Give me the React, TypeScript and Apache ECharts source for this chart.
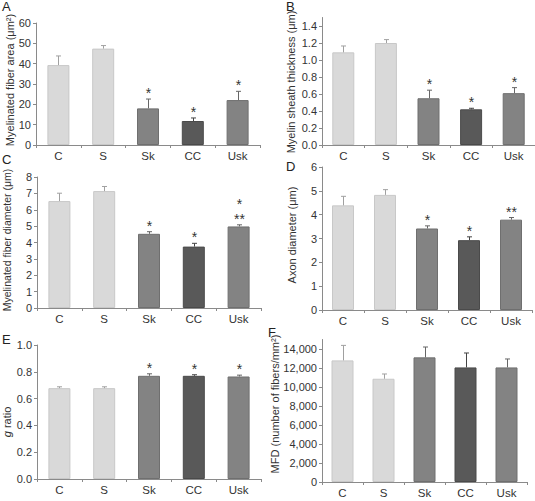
import { useEffect, useRef } from 'react';
import * as echarts from 'echarts';

// Groups on the x axis
const categories = ['C', 'S', 'Sk', 'CC', 'Usk'];

// A: myelinated fiber area (µm²)
const fiberArea = [39.3, 47.4, 18.0, 11.8, 22.1];
const fiberAreaSem = [4.5, 1.5, 4.6, 1.5, 4.3];
const fiberAreaMarks = ['', '', '*', '*', '*'];

// B: myelin sheath thickness (µm)
const sheathThickness = [1.09, 1.2, 0.55, 0.42, 0.61];
const sheathThicknessSem = [0.075, 0.04, 0.095, 0.012, 0.065];
const sheathThicknessMarks = ['', '', '*', '*', '*'];

// C: myelinated fiber diameter (µm)
const fiberDiameter = [6.53, 7.14, 4.53, 3.75, 4.98];
const fiberDiameterSem = [0.48, 0.28, 0.13, 0.2, 0.1];
const fiberDiameterMarks = ['', '', '*', '*', '*\n**'];

// D: axon diameter (µm)
const axonDiameter = [4.39, 4.83, 3.42, 2.93, 3.79];
const axonDiameterSem = [0.38, 0.22, 0.11, 0.14, 0.09];
const axonDiameterMarks = ['', '', '*', '*', '**'];

// E: g ratio
const gRatio = [0.678, 0.678, 0.77, 0.77, 0.765];
const gRatioSem = [0.01, 0.01, 0.015, 0.008, 0.01];
const gRatioMarks = ['', '', '*', '*', '*'];

// F: myelinated fiber density (fibers/mm²)
const fiberDensity = [12800, 10870, 13120, 12060, 12060];
const fiberDensitySem = [1580, 500, 1090, 1520, 890];
const fiberDensityMarks = ['', '', '', '', ''];

const barColors = ['#d9d9d9', '#d9d9d9', '#838383', '#595959', '#838383'];
const barBorders = ['#c8c8c8', '#c8c8c8', '#6f6f6f', '#4a4a4a', '#6f6f6f'];
const errColors = ['#a0a0a0', '#a0a0a0', '#666666', '#444444', '#666666'];

const FONT = '"Liberation Sans", Arial, Helvetica, sans-serif';
const TEXT = '#333333';
const AXIS = '#8a8a8a';

type Panel = {
  letter: string;
  letterPos: [number, number];
  title: string;
  titlePos: [number, number];
  titleSize: number;
  values: number[];
  sem: number[];
  marks: string[];
  max: number;
  interval: number;
  hideMax: boolean;
  fmt: (v: number) => string;
  grid: { left: number; top: number; width: number; height: number };
};

const panels: Panel[] = [
  {
    letter: 'A', letterPos: [2, 0], title: 'Myelinated fiber area (μm²)', titlePos: [10, 80], titleSize: 11,
    values: fiberArea, sem: fiberAreaSem, marks: fiberAreaMarks,
    max: 60, interval: 10, hideMax: false, fmt: (v) => String(v),
    grid: { left: 36, top: 23, width: 224, height: 122 },
  },
  {
    letter: 'B', letterPos: [286, 0], title: 'Myelin sheath thickness (μm)', titlePos: [291, 82], titleSize: 11,
    values: sheathThickness, sem: sheathThicknessSem, marks: sheathThicknessMarks,
    max: 1.5, interval: 0.2, hideMax: true, fmt: (v) => v.toFixed(1),
    grid: { left: 322, top: 17.5, width: 213, height: 127.5 },
  },
  {
    letter: 'C', letterPos: [2, 153], title: 'Myelinated fiber diameter (μm)', titlePos: [7, 240], titleSize: 10.5,
    values: fiberDiameter, sem: fiberDiameterSem, marks: fiberDiameterMarks,
    max: 8, interval: 1, hideMax: false, fmt: (v) => String(v),
    grid: { left: 37, top: 177, width: 224, height: 131 },
  },
  {
    letter: 'D', letterPos: [286, 160], title: 'Axon diameter (μm)', titlePos: [292, 235], titleSize: 11,
    values: axonDiameter, sem: axonDiameterSem, marks: axonDiameterMarks,
    max: 6, interval: 1, hideMax: false, fmt: (v) => String(v),
    grid: { left: 322, top: 167, width: 210, height: 143 },
  },
  {
    letter: 'E', letterPos: [2, 333], title: '{i|g} ratio', titlePos: [7, 422], titleSize: 11,
    values: gRatio, sem: gRatioSem, marks: gRatioMarks,
    max: 1.0, interval: 0.2, hideMax: false, fmt: (v) => v.toFixed(1),
    grid: { left: 37, top: 345, width: 224, height: 134 },
  },
  {
    letter: 'F', letterPos: [268, 326], title: 'MFD (number of fibers/mm²)', titlePos: [275, 404], titleSize: 11,
    values: fiberDensity, sem: fiberDensitySem, marks: fiberDensityMarks,
    max: 15000, interval: 2000, hideMax: true, fmt: (v) => v.toLocaleString('en-US'),
    grid: { left: 322, top: 339.5, width: 205, height: 142.5 },
  },
];

function buildOption() {
  const grid = panels.map((p) => ({ ...p.grid, containLabel: false }));

  const xAxis = panels.map((_, i) => ({
    type: 'category',
    gridIndex: i,
    data: categories,
    axisLine: { show: true, lineStyle: { color: AXIS, width: 1 } },
    axisTick: { show: true, length: 3, lineStyle: { color: AXIS } },
    axisLabel: { color: TEXT, fontSize: 11.5, fontFamily: FONT, margin: 5 },
    splitLine: { show: false },
  }));

  const yAxis = panels.map((p, i) => ({
    type: 'value',
    gridIndex: i,
    min: 0,
    max: p.max,
    interval: p.interval,
    axisLine: { show: true, lineStyle: { color: AXIS, width: 1 } },
    axisTick: { show: true, length: 3, lineStyle: { color: AXIS } },
    axisLabel: {
      color: TEXT,
      fontSize: 11,
      fontFamily: FONT,
      margin: 5,
      showMaxLabel: !p.hideMax,
      formatter: (v: number) => p.fmt(v),
    },
    splitLine: { show: false },
  }));

  const series: any[] = [];
  panels.forEach((p, i) => {
    series.push({
      type: 'bar',
      xAxisIndex: i,
      yAxisIndex: i,
      barWidth: 22,
      data: p.values.map((v, j) => ({
        value: v,
        itemStyle: { color: barColors[j], borderColor: barBorders[j], borderWidth: 1 },
      })),
    });
    series.push({
      type: 'custom',
      xAxisIndex: i,
      yAxisIndex: i,
      z: 5,
      data: p.values.map((v, j) => [j, v, v + p.sem[j]]),
      renderItem: (params: any, api: any) => {
        const j = params.dataIndex;
        const base = api.coord([api.value(0), api.value(1)]);
        const top = api.coord([api.value(0), api.value(2)]);
        const x = Math.round(base[0]) + 0.5;
        const stroke = { stroke: errColors[j], lineWidth: 1 };
        const children: any[] = [
          { type: 'line', shape: { x1: x, y1: base[1], x2: x, y2: top[1] }, style: stroke },
          { type: 'line', shape: { x1: x - 2.5, y1: top[1], x2: x + 2.5, y2: top[1] }, style: stroke },
        ];
        // significance marks, one text per line, stacked upward from the error bar
        const lines = p.marks[j] ? p.marks[j].split('\n').reverse() : [];
        lines.forEach((line, k) => {
          children.push({
            type: 'text',
            style: {
              text: line,
              x,
              y: top[1] + 1 - k * 15,
              align: 'center',
              verticalAlign: 'bottom',
              fontSize: 14,
              lineHeight: 14,
              fontFamily: FONT,
              fill: TEXT,
            },
          });
        });
        return { type: 'group', children };
      },
    });
  });

  const graphic: any[] = [];
  panels.forEach((p) => {
    graphic.push({
      type: 'text',
      x: p.letterPos[0],
      y: p.letterPos[1],
      style: {
        text: p.letter,
        fontSize: 13,
        fontFamily: FONT,
        fill: '#222222',
        align: 'left',
        verticalAlign: 'top',
      },
    });
    graphic.push({
      type: 'text',
      x: p.titlePos[0],
      y: p.titlePos[1],
      rotation: Math.PI / 2,
      style: {
        text: p.title,
        fontSize: p.titleSize,
        fontFamily: FONT,
        fill: TEXT,
        align: 'center',
        verticalAlign: 'middle',
        rich: {
          i: { fontStyle: 'italic', fontSize: p.titleSize, fontFamily: FONT, fill: TEXT },
        },
      },
    });
  });

  return {
    animation: false,
    backgroundColor: '#ffffff',
    textStyle: { fontFamily: FONT },
    grid,
    xAxis,
    yAxis,
    series,
    graphic,
  };
}

export default function App() {
  const ref = useRef<HTMLDivElement>(null);

  useEffect(() => {
    if (!ref.current) return;
    const chart = echarts.init(ref.current, undefined, { renderer: 'svg' });
    chart.setOption(buildOption() as any);
    return () => chart.dispose();
  }, []);

  return (
    <div
      ref={ref}
      style={{ position: 'fixed', left: 0, top: 0, width: 535, height: 501, background: '#fff' }}
    />
  );
}
